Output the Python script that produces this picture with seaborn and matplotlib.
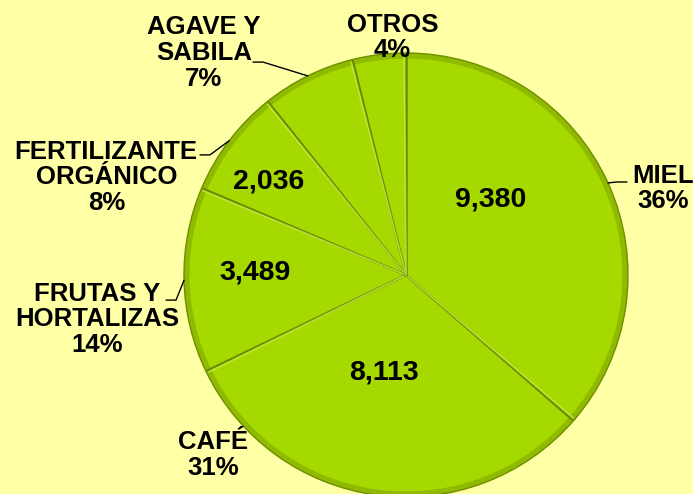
import numpy as np
import matplotlib
matplotlib.use("Agg")
import matplotlib.pyplot as plt
import seaborn as sns

# datos del grafico
categorias = ["MIEL", "CAFÉ", "FRUTAS Y\nHORTALIZAS", "FERTILIZANTE\nORGÁNICO", "AGAVE Y\nSABILA", "OTROS"]
valores = [9380, 8113, 3489, 2036, 1760, 1000]
mostrar_valor = [True, True, True, True, False, False]

# posiciones de las etiquetas (unidades del radio)
pos_etiqueta = [(1.16, 0.39), (-0.87, -0.81), (-1.39, -0.20), (-1.35, 0.44), (-0.91, 1.00), (-0.06, 1.07)]
pos_valor = [(0.38, 0.34), (-0.10, -0.44), (-0.68, 0.01), (-0.62, 0.42)]
# final de la linea guia (None = sin linea)
fin_guia = [(0.995, 0.419), None, (-1.081, -0.113), (-0.928, 0.541), (-0.689, 0.959), None]

sns.set_theme(style="white")
plt.rcParams["font.family"] = ["Liberation Sans", "DejaVu Sans"]

fondo = "#FFFFA6"
verde = "#A6D900"

fig = plt.figure(figsize=(6.93, 4.94), dpi=100, facecolor=fondo)
ax = fig.add_axes([0, 0, 1, 1])
ax.set_facecolor(fondo)

total = sum(valores)
# borde exterior un poco mas oscuro
ax.pie(valores, startangle=90, counterclock=False, radius=1.0,
       colors=["#8FBA00"] * len(valores),
       wedgeprops=dict(edgecolor="#6E8F00", linewidth=1.0))
wedges, _ = ax.pie(valores, startangle=90, counterclock=False, radius=0.975,
                   colors=[verde] * len(valores),
                   wedgeprops=dict(edgecolor="none", linewidth=0))

# lineas radiales con efecto de bisel
for w in wedges:
    a = np.deg2rad(w.theta1)
    ax.plot([0, 0.99 * np.cos(a)], [0, 0.99 * np.sin(a)], color="#6A8A00", lw=1.8, zorder=3)
    ax.plot([0, 0.99 * np.cos(a + 0.008)], [0, 0.99 * np.sin(a + 0.008)],
            color="#C8EE45", lw=1.2, zorder=3, alpha=0.8)

for i, w in enumerate(wedges):
    pct = round(valores[i] / total * 100)
    x, y = pos_etiqueta[i]
    ax.text(x, y, f"{categorias[i]}\n{pct}%", ha="center", va="center",
            fontsize=18.5, fontweight="bold", color="black", linespacing=1.08, zorder=5)
    if fin_guia[i] is not None:
        mid = np.deg2rad((w.theta1 + w.theta2) / 2)
        ex, ey = np.cos(mid), np.sin(mid)
        fx, fy = fin_guia[i]
        paso = 0.045 if fx > 0 else -0.045
        ax.plot([ex, fx - paso, fx], [ey, fy, fy], color="black", lw=1.0, zorder=4)
    if mostrar_valor[i]:
        vx, vy = pos_valor[i]
        ax.text(vx, vy, f"{valores[i]:,}", ha="center", va="center",
                fontsize=20.5, fontweight="bold", color="black", zorder=5)

ax.set_xlim((0 - 406) / 222, (693 - 406) / 222)
ax.set_ylim(-219 / 222, 275 / 222)
ax.set_aspect("auto")
ax.axis("off")

fig.savefig("out.png", dpi=100, facecolor=fondo)
